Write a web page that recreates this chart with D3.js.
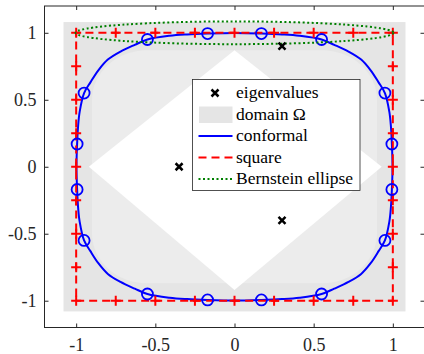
<!DOCTYPE html>
<html>
  <head>
    <meta charset="utf-8" />
    <title>conformal vs square</title>
    <script src="https://cdn.jsdelivr.net/npm/d3@7"></script>
    <style>
      body { margin: 0; background: #fff; }
      text { font-family: "Liberation Serif", "Times New Roman", serif; }
    </style>
  </head>

  <body>
    <svg width="424" height="354"></svg>

    <script type="text/javascript">
      // ---- data ----
      var xTicks = [-1, -0.5, 0, 0.5, 1];
      var yTicks = [-1, -0.5, 0, 0.5, 1];
      var xTickLabels = ["-1", "-0.5", "0", "0.5", "1"];
      var yTickLabels = ["-1", "-0.5", "0", "0.5", "1"];

      var eigenvalues = [[0.3, 0.9], [-0.35, 0], [0.3, -0.4]];

      // domain Omega: outer square, lighter inner box, white diamond hole
      var domainOuter = [-1.08, 1.08];
      var domainInner = [-0.9, 0.87];
      var domainHole = [[-0.92, 0], [0, 0.87], [0.93, 0], [0, -0.92]];

      var squarePts = [
        [-1, -1], [-0.75, -1], [-0.5, -1], [-0.25, -1], [0, -1], [0.25, -1], [0.5, -1], [0.75, -1],
        [1, -1], [1, -0.75], [1, -0.5], [1, -0.25], [1, 0], [1, 0.25], [1, 0.5], [1, 0.75],
        [1, 1], [0.75, 1], [0.5, 1], [0.25, 1], [0, 1], [-0.25, 1], [-0.5, 1], [-0.75, 1],
        [-1, 1], [-1, 0.75], [-1, 0.5], [-1, 0.25], [-1, 0], [-1, -0.25], [-1, -0.5], [-1, -0.75]
      ];

      var conformalPts = [
        [0, 0.998], [-0.17, 0.994], [-0.3, 0.988], [-0.41, 0.978], [-0.55, 0.95], [-0.63, 0.91],
        [-0.72, 0.86], [-0.8, 0.8], [-0.86, 0.72], [-0.91, 0.63], [-0.95, 0.55], [-0.978, 0.41],
        [-0.988, 0.3], [-0.994, 0.17], [-0.998, 0], [-0.994, -0.17], [-0.988, -0.3], [-0.978, -0.41],
        [-0.95, -0.55], [-0.91, -0.63], [-0.86, -0.72], [-0.8, -0.8], [-0.72, -0.86], [-0.63, -0.91],
        [-0.55, -0.95], [-0.41, -0.978], [-0.3, -0.988], [-0.17, -0.994], [0, -0.998], [0.17, -0.994],
        [0.3, -0.988], [0.41, -0.978], [0.55, -0.95], [0.63, -0.91], [0.72, -0.86], [0.8, -0.8],
        [0.86, -0.72], [0.91, -0.63], [0.95, -0.55], [0.978, -0.41], [0.988, -0.3], [0.994, -0.17],
        [0.998, 0], [0.994, 0.17], [0.988, 0.3], [0.978, 0.41], [0.95, 0.55], [0.91, 0.63],
        [0.86, 0.72], [0.8, 0.8], [0.72, 0.86], [0.63, 0.91], [0.55, 0.95], [0.41, 0.978],
        [0.3, 0.988], [0.17, 0.994]
      ];

      var conformalMarks = [
        [-0.17, 0.994], [-0.55, 0.95], [-0.95, 0.55], [-0.994, 0.17],
        [-0.994, -0.17], [-0.95, -0.55], [-0.55, -0.95], [-0.17, -0.994],
        [0.17, -0.994], [0.55, -0.95], [0.95, -0.55], [0.994, -0.17],
        [0.994, 0.17], [0.95, 0.55], [0.55, 0.95], [0.17, 0.994]
      ];

      var ellipseCenter = [0, 1];
      var ellipseAxes = [1.004, 0.085];

      var legendLabels = ["eigenvalues", "domain \u03A9", "conformal", "square", "Bernstein ellipse"];

      // ---- scales ----
      var svg = d3.select("svg");
      var xScale = d3.scaleLinear().domain([-1.2, 1.2]).range([44.5, 424.5]);
      var yScale = d3.scaleLinear().domain([-1.2, 1.2]).range([327.5, 6]);
      var axisColor = "#262626";

      // domain Omega
      svg.append("rect")
        .attr("x", xScale(domainOuter[0]))
        .attr("y", yScale(domainOuter[1]))
        .attr("width", xScale(domainOuter[1]) - xScale(domainOuter[0]))
        .attr("height", yScale(domainOuter[0]) - yScale(domainOuter[1]))
        .attr("fill", "#e5e5e5");
      svg.append("rect")
        .attr("x", xScale(domainInner[0]))
        .attr("y", yScale(domainInner[1]))
        .attr("width", xScale(-domainInner[0]) - xScale(domainInner[0]))
        .attr("height", yScale(-domainInner[1]) - yScale(domainInner[1]))
        .attr("rx", 55)
        .attr("ry", 50)
        .attr("fill", "#ececec");
      var line = d3.line()
        .x(function (d) { return xScale(d[0]); })
        .y(function (d) { return yScale(d[1]); });
      svg.append("path")
        .attr("d", line.curve(d3.curveLinearClosed)(domainHole))
        .attr("fill", "#ffffff");

      // conformal curve
      svg.append("path")
        .attr("d", line.curve(d3.curveCatmullRomClosed)(conformalPts))
        .attr("fill", "none")
        .attr("stroke", "#0000ff")
        .attr("stroke-width", 2);

      // square
      svg.append("path")
        .attr("d", line.curve(d3.curveLinearClosed)(squarePts))
        .attr("fill", "none")
        .attr("stroke", "#ff0000")
        .attr("stroke-width", 2)
        .attr("stroke-dasharray", "8,5");

      var plusPath = "M-5,0H5M0,-5V5";
      svg.append("g")
        .selectAll("path")
        .data(squarePts)
        .enter()
        .append("path")
        .attr("transform", function (d) { return "translate(" + xScale(d[0]) + "," + yScale(d[1]) + ")"; })
        .attr("d", plusPath)
        .attr("stroke", "#ff0000")
        .attr("stroke-width", 2);

      svg.append("g")
        .selectAll("circle")
        .data(conformalMarks)
        .enter()
        .append("circle")
        .attr("cx", function (d) { return xScale(d[0]); })
        .attr("cy", function (d) { return yScale(d[1]); })
        .attr("r", 5.5)
        .attr("fill", "none")
        .attr("stroke", "#0000ff")
        .attr("stroke-width", 1.8);

      // Bernstein ellipse
      svg.append("ellipse")
        .attr("cx", xScale(ellipseCenter[0]))
        .attr("cy", yScale(ellipseCenter[1]))
        .attr("rx", xScale(ellipseAxes[0]) - xScale(0))
        .attr("ry", yScale(0) - yScale(ellipseAxes[1]))
        .attr("fill", "none")
        .attr("stroke", "#008000")
        .attr("stroke-width", 2)
        .attr("stroke-dasharray", "2,2.5");

      // eigenvalues
      var timesPath = "M-3.5,-3.5L3.5,3.5M-3.5,3.5L3.5,-3.5";
      svg.append("g")
        .selectAll("path")
        .data(eigenvalues)
        .enter()
        .append("path")
        .attr("transform", function (d) { return "translate(" + xScale(d[0]) + "," + yScale(d[1]) + ")"; })
        .attr("d", timesPath)
        .attr("stroke", "#000")
        .attr("stroke-width", 2.5);

      // axes (ticks inward on all four sides)
      function styleAxis(g) {
        g.select(".domain").remove();
        g.selectAll("line").attr("stroke", axisColor);
        g.selectAll("text").attr("fill", axisColor).style("font-size", "18px")
          .style("font-family", "'Liberation Serif', serif");
      }
      svg.append("g")
        .attr("transform", "translate(0," + yScale.range()[0] + ")")
        .call(d3.axisBottom(xScale).tickValues(xTicks).tickSizeInner(-4).tickSizeOuter(0).tickPadding(11)
          .tickFormat(function (d, i) { return xTickLabels[i]; }))
        .call(styleAxis);
      svg.append("g")
        .attr("transform", "translate(0," + yScale.range()[1] + ")")
        .call(d3.axisTop(xScale).tickValues(xTicks).tickSizeInner(-4).tickSizeOuter(0).tickFormat(""))
        .call(styleAxis);
      svg.append("g")
        .attr("transform", "translate(" + xScale.range()[0] + ",0)")
        .call(d3.axisLeft(yScale).tickValues(yTicks).tickSizeInner(-4).tickSizeOuter(0).tickPadding(8)
          .tickFormat(function (d, i) { return yTickLabels[i]; }))
        .call(styleAxis);
      svg.append("g")
        .attr("transform", "translate(" + xScale.range()[1] + ",0)")
        .call(d3.axisRight(yScale).tickValues(yTicks).tickSizeInner(-4).tickSizeOuter(0).tickFormat(""))
        .call(styleAxis);
      svg.append("rect")
        .attr("x", xScale.range()[0])
        .attr("y", yScale.range()[1])
        .attr("width", xScale.range()[1] - xScale.range()[0])
        .attr("height", yScale.range()[0] - yScale.range()[1])
        .attr("fill", "none")
        .attr("stroke", axisColor)
        .attr("stroke-width", 1);

      // legend
      var legend = svg.append("g").attr("transform", "translate(192.5,79.5)");
      legend.append("rect")
        .attr("width", 167.5)
        .attr("height", 111)
        .attr("fill", "#fff")
        .attr("stroke", axisColor)
        .attr("stroke-width", 0.8);
      var rowY = [13.5, 35, 56.5, 78, 99.5];
      legend.append("path")
        .attr("transform", "translate(22.5," + rowY[0] + ")")
        .attr("d", timesPath)
        .attr("stroke", "#000")
        .attr("stroke-width", 2.5);
      legend.append("rect")
        .attr("x", 6.5).attr("y", rowY[1] - 8)
        .attr("width", 33.5).attr("height", 16.5)
        .attr("fill", "#e5e5e5");
      legend.append("line")
        .attr("x1", 6).attr("x2", 40).attr("y1", rowY[2]).attr("y2", rowY[2])
        .attr("stroke", "#0000ff").attr("stroke-width", 2);
      legend.append("line")
        .attr("x1", 6).attr("x2", 40).attr("y1", rowY[3]).attr("y2", rowY[3])
        .attr("stroke", "#ff0000").attr("stroke-width", 2)
        .attr("stroke-dasharray", "8,5");
      legend.append("line")
        .attr("x1", 6).attr("x2", 40).attr("y1", rowY[4]).attr("y2", rowY[4])
        .attr("stroke", "#008000").attr("stroke-width", 2)
        .attr("stroke-dasharray", "2,2.5");
      legend.selectAll("text.lab")
        .data(legendLabels)
        .enter()
        .append("text")
        .attr("class", "lab")
        .attr("x", 43.5)
        .attr("y", function (d, i) { return rowY[i] + 5; })
        .style("font-size", "17.5px")
        .attr("fill", "#000")
        .text(function (d) { return d; });
    </script>
  </body>
</html>
